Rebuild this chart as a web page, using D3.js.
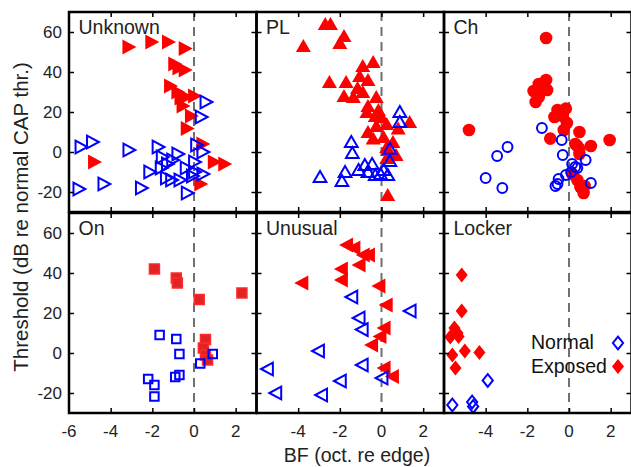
<!DOCTYPE html>
<html><head><meta charset="utf-8">
<script src="https://cdn.jsdelivr.net/npm/d3@7"></script>
<style>body{margin:0;background:#fff}svg{display:block}text{font-family:"Liberation Sans",Arial,Helvetica,sans-serif}</style>
</head><body><svg id="c" width="631" height="467"></svg>
<script>
// ---- data ----
const panelNames = ["Unknown","PL","Ch","On","Unusual","Locker"];
const markerTypes = ["right","up","circle","square","left","diamond"];
const xTicks = [-6,-4,-2,0,2];
const yTicks = [-20,0,20,40,60];
const legendLabels = ["Normal","Exposed"];

const unknownExposed = [[-3.1,52.5],[-2.0,55],[-1.2,55],[-0.4,51.7],[-0.9,44],[-0.4,41],[-0.7,42],[-1.1,33],[-0.75,30],[-0.6,27],[0.05,28],[-0.35,27.5],[-0.5,23],[-0.1,18],[-0.3,11.7],[-4.75,-5],[0.45,4],[1.0,-5],[1.5,-6],[0.35,-16]];
const unknownNormal = [[0.6,25],[0.37,17.5],[-5.4,2.5],[-4.85,5],[-3.1,1],[-1.7,2.5],[-1.5,-2.5],[-0.75,-1],[-1.25,-6],[-2.1,-10],[-1.55,-8],[-1.0,-4],[-1.3,-13],[-1.05,-14],[-0.65,-14],[0.15,3.5],[0.45,0],[0.05,-5],[0.05,-10],[0.45,-11],[-0.05,-12],[-0.3,-20.5],[-5.5,-18.5],[-4.3,-16],[-2.5,-18],[-0.35,-8]];
const plExposed = [[-2.7,64],[-2.45,64],[-3.75,53],[-1.8,58],[-2.0,54.5],[-0.9,43],[-0.4,45],[-1.05,38],[-0.65,36],[-2.5,35],[-1.7,35],[-1.8,28],[-1.35,27.5],[-0.9,30],[-1.15,32],[-0.25,27.5],[-0.65,23],[-0.15,21],[-0.7,20],[0,17.5],[0.25,14],[-0.25,13],[1.35,15],[0.8,11.7],[-0.65,10],[-0.4,6.7],[0.1,7.5],[0.55,5],[0.3,1],[0.7,-1.5],[0.25,-3],[0.3,-21.5],[-0.3,18],[0.25,2.5]];
const plNormal = [[0.88,20],[0.88,15],[-1.45,5],[-1.4,-0.5],[0.4,1.7],[0.4,-4.5],[-2.95,-12.5],[-1.75,-10],[-1.9,-14.5],[-1.1,-9],[-0.8,-6.5],[-0.45,-6],[-0.65,-10],[-0.3,-11.5],[0.1,-9],[0.3,-11.5],[-0.05,-11]];
const chExposed = [[-1.1,57],[-4.8,11],[-1.1,36],[-1.45,34],[-1.7,30.5],[-1.3,31],[-1.05,31],[-1.45,27.5],[-1.6,25],[-0.15,21.7],[-0.55,21],[-0.7,17.5],[-0.3,18],[-0.1,14.5],[-0.25,11],[-0.9,6.7],[0.5,10],[1.95,6],[0.3,4],[1.05,3],[0.5,1.5],[0.5,-1],[0.15,-11],[0.4,-14],[0.55,-17.5],[0.7,-20.5],[0.75,-17],[0.4,3]];
const chNormal = [[-1.3,12],[-2.95,2.5],[-3.45,-2],[-4.0,-13],[-3.2,-18],[-0.35,6],[-0.3,-1.5],[0.8,-4],[0.15,-6],[0.3,-7.5],[0.1,-10],[-0.15,-11.5],[-0.5,-13.5],[-0.55,-16],[-0.65,-17],[1.05,-15.5],[0.4,-8]];
const onExposed = [[-1.9,42],[-0.85,37.5],[-0.8,35],[0.25,26.7],[2.3,30],[0.55,6.7],[0.45,2.5],[0.55,-1],[0.65,-3.5]];
const onNormal = [[-1.65,9],[-0.85,7],[-0.7,-0.5],[0.9,-0.5],[0.3,-5.3],[-0.7,-11],[-0.9,-12],[-2.2,-13],[-1.9,-16],[-1.9,-21.7]];
const unusualExposed = [[-1.7,54],[-1.35,52.5],[-0.9,49],[-0.65,49],[-1.1,44],[-1.95,42],[-1.95,36.5],[-3.85,35],[-0.15,33.5],[0.2,24],[0.1,12.5],[-0.1,8.3],[-0.5,4],[0.1,-7.5],[0.5,-11.7]];
const unusualNormal = [[-1.45,28],[1.35,21],[-1.1,17.5],[-0.95,11.7],[-3.05,1],[-0.95,-6],[-5.5,-8],[-2.0,-14],[0.0,-12.5],[-5.1,-20],[-2.9,-21]];
const lockerExposed = [[-5.15,39],[-5.15,21],[-5.5,12.5],[-5.35,10],[-5.7,8],[-5.3,8.3],[-5.0,1],[-4.3,0.3],[-5.6,-1],[-5.45,-7.5]];
const lockerNormal = [[-3.9,-13.7],[-5.6,-26],[-4.65,-24.5],[-4.6,-26.7]];

const exposedSets = [unknownExposed,plExposed,chExposed,onExposed,unusualExposed,lockerExposed];
const normalSets = [unknownNormal,plNormal,chNormal,onNormal,unusualNormal,lockerNormal];

// ---- layout ----
const svg = d3.select("#c");
const left = 69, pw = 187.5, ph = 200, tops = [12, 213];
const RED = "#ff0000", BLUE = "#0000ff";

function markerPath(type, s){
  switch(type){
    case "right": return `M${-7*s},${-7.5*s}L${7*s},0L${-7*s},${7.5*s}Z`;
    case "left": return `M${7*s},${-7.5*s}L${-7*s},0L${7*s},${7.5*s}Z`;
    case "up": return `M0,${-7*s}L${7.5*s},${6*s}L${-7.5*s},${6*s}Z`;
    case "square": return `M${-5*s},${-5*s}L${5*s},${-5*s}L${5*s},${5*s}L${-5*s},${5*s}Z`;
    case "diamond": return `M0,${-7.5*s}L${6*s},0L0,${7.5*s}L${-6*s},0Z`;
    case "circle": { const p=d3.path(); p.arc(0,0,6.3*s,0,2*Math.PI); p.closePath(); return p.toString(); }
  }
}

panelNames.forEach((name,i)=>{
  const col = i%3, row = Math.floor(i/3);
  const x0 = left + col*pw, y0 = tops[row];
  const x = d3.scaleLinear().domain([-6,3]).range([x0, x0+pw]);
  const y = d3.scaleLinear().domain([-30,70]).range([y0+ph, y0]);
  const g = svg.append("g");

  // dashed zero line
  g.append("line").attr("x1",x(0)).attr("x2",x(0)).attr("y1",y0).attr("y2",y0+ph)
    .attr("stroke","#707070").attr("stroke-width",2).attr("stroke-dasharray","9,6");

  const type = markerTypes[i];
  const pathF = markerPath(type, 1);
  const pathO = markerPath(type, type==="circle" ? 0.78 : 0.85);
  // exposed (filled red)
  g.selectAll("path.exp").data(exposedSets[i]).enter().append("path")
    .attr("d",pathF).attr("transform",d=>`translate(${x(d[0])},${y(d[1])})`)
    .attr("fill", type==="square" ? "#e02424" : RED)
    .attr("stroke", type==="square" ? "#ff2a2a" : "none").attr("stroke-width",1.5);
  // normal (open blue)
  g.selectAll("path.nor").data(normalSets[i]).enter().append("path")
    .attr("d",pathO).attr("transform",d=>`translate(${x(d[0])},${y(d[1])})`)
    .attr("fill","none").attr("stroke",BLUE).attr("stroke-width",2);

  // axes (inward ticks)
  const tl = 5;
  g.append("g").attr("transform",`translate(0,${y0+ph})`).call(d3.axisTop(x).tickValues(xTicks.slice(1)).tickSize(tl).tickFormat(""));
  g.append("g").attr("transform",`translate(0,${y0})`).call(d3.axisBottom(x).tickValues(xTicks.slice(1)).tickSize(tl).tickFormat(""));
  g.append("g").attr("transform",`translate(${x0},0)`).call(d3.axisRight(y).tickValues(yTicks).tickSize(tl).tickFormat(""));
  g.append("g").attr("transform",`translate(${x0+pw},0)`).call(d3.axisLeft(y).tickValues(yTicks).tickSize(tl).tickFormat(""));
  g.selectAll(".domain").remove();
  g.selectAll(".tick line").attr("stroke","#000").attr("stroke-width",1.5);

  // border
  g.append("rect").attr("x",x0).attr("y",y0).attr("width",pw).attr("height",ph)
    .attr("fill","none").attr("stroke","#000").attr("stroke-width",2.5);

  // panel label
  g.append("text").attr("x",x0+9.5).attr("y",y0+21.5).attr("font-size",19.5).attr("fill","#222").text(name);

  // y tick labels
  if(col===0){
    yTicks.forEach(t=>{
      g.append("text").attr("x",x0-7).attr("y",y(t)).attr("dy","0.36em").attr("text-anchor","end")
        .attr("font-size",17).attr("fill","#222").text(t);
    });
  }
  // x tick labels
  if(row===1){
    const ts = col===0 ? xTicks : xTicks.slice(1);
    ts.forEach(t=>{
      g.append("text").attr("x",x(t)).attr("y",436.5).attr("text-anchor","middle")
        .attr("font-size",17).attr("fill","#222").text(t);
    });
  }
  // legend in Locker panel
  if(i===5){
    [0,1].forEach(k=>{
      const ly = 343 + k*23.5;
      g.append("text").attr("x",531).attr("y",ly+6).attr("font-size",19.5).attr("fill","#111").text(legendLabels[k]);
      g.append("path").attr("d",k===0?pathO:pathF).attr("transform",`translate(618,${ly})`)
        .attr("fill",k===0?"none":RED).attr("stroke",k===0?BLUE:"none").attr("stroke-width",2);
    });
  }
});

// axis titles
svg.append("text").attr("x",357).attr("y",462).attr("text-anchor","middle").attr("font-size",19.5).attr("fill","#222").text("BF (oct. re edge)");
svg.append("text").attr("transform","translate(28,217) rotate(-90)").attr("text-anchor","middle").attr("font-size",20.5).attr("fill","#222").text("Threshold (dB re normal CAP thr.)");
</script></body></html>
